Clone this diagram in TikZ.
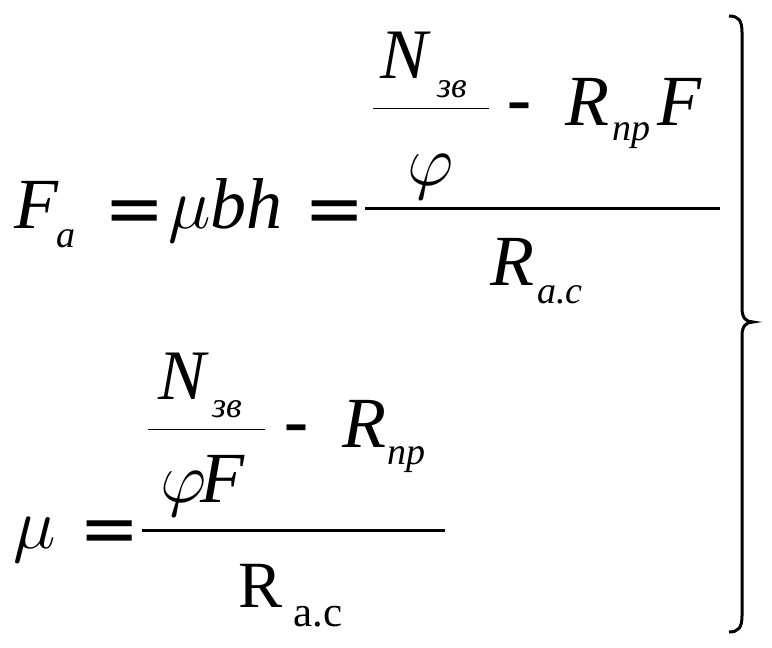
\RequirePackage{fix-cm}
\documentclass[tikz,border=0pt]{standalone}
\usepackage{fontspec}
\setmainfont{Liberation Serif}
\newfontfamily\signfont{DejaVu Sans}
\begin{document}
\begin{tikzpicture}[x=1pt,y=-1pt]

\tikzset{big/.style={anchor=base west,inner sep=0pt,font=\fontsize{72}{80}\selectfont\itshape},
    small/.style={anchor=base west,inner sep=0pt,font=\fontsize{38}{44}\selectfont\itshape},
    sign/.style={anchor=base,inner sep=0pt,font=\signfont\fontsize{72}{80}\selectfont},
    bar/.style={line width=3pt},
    thinbar/.style={line width=1pt}}

\useasboundingbox (0,0) rectangle (772,648);

%% First line
\node[big] (fa) at (14,228) {F};
\node[small] (fa sub) at (56,247) {а};
\node[sign] (eq1) at (135,233) {=};
\node[big] (mubh) at (168,228) {$\mu$bh};
\node[sign] (eq2) at (335,233) {=};
\coordinate (bar1 w) at (365,208);
\coordinate (bar1 e) at (720,208);
\draw[bar] (bar1 w) -- (bar1 e);

% numerator
\coordinate (frac1 w) at (373,108);
\coordinate (frac1 e) at (489,108);
\draw[thinbar] (frac1 w) -- (frac1 e);
\node[big,font=\fontsize{71}{80}\selectfont\itshape] (n1) at (380,78) {N};
\node[small,font=\fontsize{36}{40}\selectfont\itshape] (n1 sub) at (437,97) {зв};
\node[big] (phi1) at (407,185) {$\varphi$};
\node[sign,anchor=base west] (minus1) at (506,125) {-};
\node[big] (r1) at (565,125) {R};
\node[small] (r1 sub) at (612,140) {пр};
\node[big] (f1) at (657,125) {F};

% denominator
\node[big] (rac1) at (490,285) {R};
\node[small] (rac1 sub) at (537,303) {а.с};

%% Second line
\node[big] (mu) at (13,548) {$\mu$};
\node[sign] (eq3) at (110,553) {=};
\coordinate (bar2 w) at (142,530);
\coordinate (bar2 e) at (445,530);
\draw[bar] (bar2 w) -- (bar2 e);

% numerator
\coordinate (frac2 w) at (148,429);
\coordinate (frac2 e) at (265,429);
\draw[thinbar] (frac2 w) -- (frac2 e);
\node[big,font=\fontsize{71}{80}\selectfont\itshape] (n2) at (158,399) {N};
\node[small,font=\fontsize{36}{40}\selectfont\itshape] (n2 sub) at (212,417) {зв};
\node[big] (phif2) at (160,502) {$\varphi$\kern-6pt F};
\node[sign,anchor=base west] (minus2) at (283,447) {-};
\node[big] (r2) at (342,447) {R};
\node[small] (r2 sub) at (387,464) {пр};

% denominator
\node[big,font=\fontsize{66}{72}\selectfont] (rac2) at (238,607) {R};
\node[small,font=\fontsize{43}{48}\selectfont] (rac2 sub) at (293,626) {а.с};

%% Brace
\draw[line width=3pt] (729,16) .. controls (738,16) and (742,20) .. (742,32) -- (742,308)
    .. controls (742,318) and (746,322) .. (753,322)
    .. controls (746,322) and (742,326) .. (742,336) -- (742,616)
    .. controls (742,628) and (738,632) .. (729,632);

\end{tikzpicture}
\end{document}
